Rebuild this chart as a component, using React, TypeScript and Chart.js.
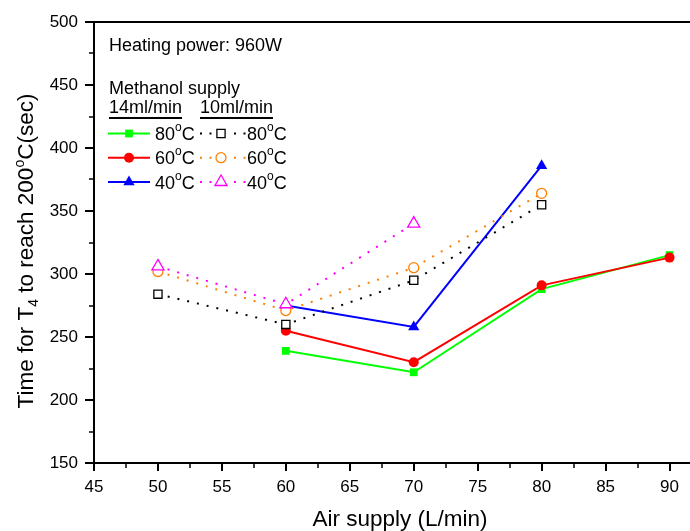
import React, { useEffect, useRef } from "react";
import { Chart, registerables } from "chart.js";

Chart.register(...registerables);

// ---- data ----
const air14 = [60, 70, 80, 90];
const time14_80 = [239, 222, 288, 315];
const time14_60 = [255, 230, 291, 313];
const air14_40 = [60, 70, 80];
const time14_40 = [275, 258, 386];

const air10 = [50, 60, 70, 80];
const time10_80 = [284, 260, 295, 355];
const time10_60 = [302, 271, 305, 364];
const air10_40 = [50, 60, 70];
const time10_40 = [306, 276, 340];

const xTickValues = [45, 50, 55, 60, 65, 70, 75, 80, 85, 90];
const xMinorValues = [47.5, 52.5, 57.5, 62.5, 67.5, 72.5, 77.5, 82.5, 87.5];
const yTickValues = [150, 200, 250, 300, 350, 400, 450, 500];
const yMinorValues = [175, 225, 275, 325, 375, 425, 475];
const xMin = 45;
const xMax = 91.6;
const yMin = 150;
const yMax = 500;

const headerText = "Heating power: 960W";
const supplyTitle = "Methanol supply";
const groupLabels = ["14ml/min", "10ml/min"];
const tempLabels = ["80", "60", "40"];
const xTitle = "Air supply (L/min)";

const FONT = '"Liberation Sans", Arial, Helvetica, sans-serif';

const GREEN = "#00FF00";
const RED = "#FF0000";
const BLUE = "#0000FF";
const BLACK = "#000000";
const ORANGE = "#FF8000";
const MAGENTA = "#FF00FF";

const pts = (xs: number[], ys: number[]) => xs.map((x, i) => ({ x, y: ys[i] }));

type Part = { t: string; size: number; dy: number };

function partsWidth(ctx: CanvasRenderingContext2D, parts: Part[]) {
  let w = 0;
  for (const p of parts) {
    ctx.font = `${p.size}px ${FONT}`;
    w += ctx.measureText(p.t).width;
  }
  return w;
}

function drawParts(ctx: CanvasRenderingContext2D, parts: Part[], x: number, y: number) {
  let cx = x;
  for (const p of parts) {
    ctx.font = `${p.size}px ${FONT}`;
    ctx.fillText(p.t, cx, y + p.dy);
    cx += ctx.measureText(p.t).width;
  }
}

function drawMarker(
  ctx: CanvasRenderingContext2D,
  style: string,
  x: number,
  y: number,
  r: number,
  fill: string,
  stroke: string,
  lw: number
) {
  ctx.save();
  ctx.beginPath();
  if (style === "rect") {
    const s = r / Math.SQRT2;
    ctx.rect(x - s, y - s, 2 * s, 2 * s);
  } else if (style === "circle") {
    ctx.arc(x, y, r, 0, Math.PI * 2);
  } else {
    let rad = 0;
    ctx.moveTo(x + Math.sin(rad) * r, y - Math.cos(rad) * r);
    rad += (2 * Math.PI) / 3;
    ctx.lineTo(x + Math.sin(rad) * r, y - Math.cos(rad) * r);
    rad += (2 * Math.PI) / 3;
    ctx.lineTo(x + Math.sin(rad) * r, y - Math.cos(rad) * r);
    ctx.closePath();
  }
  ctx.fillStyle = fill;
  ctx.fill();
  if (lw > 0) {
    ctx.strokeStyle = stroke;
    ctx.lineWidth = lw;
    ctx.stroke();
  }
  ctx.restore();
}

const solidSeries = [
  { color: GREEN, style: "rect", r: 5.5 },
  { color: RED, style: "circle", r: 5 },
  { color: BLUE, style: "triangle", r: 6.5 },
];
const dottedSeries = [
  { color: BLACK, style: "rect", r: 5.8 },
  { color: ORANGE, style: "circle", r: 5 },
  { color: MAGENTA, style: "triangle", r: 7 },
];

const zeroPadding = () => ({ left: 0, right: 0, top: 0, bottom: 0 });

const decorPlugin = {
  id: "decor",
  afterDraw(chart: any) {
    const ctx: CanvasRenderingContext2D = chart.ctx;
    const area = chart.chartArea;
    const xs = chart.scales.x;
    const ys = chart.scales.y;
    ctx.save();
    ctx.strokeStyle = "#000";
    ctx.fillStyle = "#000";

    // top frame line
    ctx.lineWidth = 2;
    ctx.beginPath();
    ctx.moveTo(area.left - 1, area.top);
    ctx.lineTo(chart.width, area.top);
    ctx.stroke();

    // y ticks (major + minor)
    const yT = [
      ...yTickValues.map((v) => ({ v, major: true })),
      ...yMinorValues.map((v) => ({ v, major: false })),
    ];
    for (const { v, major } of yT) {
      const py = Math.round(ys.getPixelForValue(v));
      ctx.lineWidth = major ? 2 : 1.5;
      ctx.beginPath();
      ctx.moveTo(area.left, py);
      ctx.lineTo(area.left - (major ? 9 : 5), py);
      ctx.stroke();
    }
    // x ticks (major + minor)
    const xT = [
      ...xTickValues.map((v) => ({ v, major: true })),
      ...xMinorValues.map((v) => ({ v, major: false })),
    ];
    for (const { v, major } of xT) {
      const px = Math.round(xs.getPixelForValue(v));
      ctx.lineWidth = major ? 2 : 1.5;
      ctx.beginPath();
      ctx.moveTo(px, area.bottom);
      ctx.lineTo(px, area.bottom + (major ? 8 : 5));
      ctx.stroke();
    }

    // axis titles
    ctx.textBaseline = "alphabetic";
    ctx.textAlign = "left";
    const xParts: Part[] = [{ t: xTitle, size: 22.5, dy: 0 }];
    const xw = partsWidth(ctx, xParts);
    drawParts(ctx, xParts, 400 - xw / 2, 526);

    const yParts: Part[] = [
      { t: "Time for T", size: 22.5, dy: 0 },
      { t: "4", size: 14, dy: 5 },
      { t: " to reach 200", size: 22.5, dy: 0 },
      { t: "o", size: 14, dy: -9 },
      { t: "C(sec)", size: 22.5, dy: 0 },
    ];
    const yw = partsWidth(ctx, yParts);
    ctx.save();
    ctx.translate(33, 251);
    ctx.rotate(-Math.PI / 2);
    drawParts(ctx, yParts, -yw / 2, 0);
    ctx.restore();

    // legend
    ctx.font = `18px ${FONT}`;
    ctx.fillText(headerText, 109, 51);
    ctx.fillText(supplyTitle, 109, 94);
    const gx = [109, 200];
    groupLabels.forEach((g, i) => {
      ctx.font = `18px ${FONT}`;
      ctx.fillText(g, gx[i], 113);
      const w = ctx.measureText(g).width;
      ctx.lineWidth = 2;
      ctx.beginPath();
      ctx.moveTo(gx[i], 118);
      ctx.lineTo(gx[i] + w, 118);
      ctx.stroke();
    });

    const rowY = [133.5, 157.7, 182];
    tempLabels.forEach((t, i) => {
      const y = rowY[i];
      const tParts: Part[] = [
        { t, size: 18, dy: 0 },
        { t: "o", size: 12, dy: -9 },
        { t: "C", size: 18, dy: 0 },
      ];
      // solid (14 ml/min)
      const s = solidSeries[i];
      ctx.strokeStyle = s.color;
      ctx.lineWidth = 2;
      ctx.setLineDash([]);
      ctx.beginPath();
      ctx.moveTo(108, y);
      ctx.lineTo(150, y);
      ctx.stroke();
      drawMarker(ctx, s.style, 129, y, s.r, s.color, s.color, 0);
      ctx.fillStyle = "#000";
      drawParts(ctx, tParts, 155, y + 6.5);

      // dotted (10 ml/min)
      const d = dottedSeries[i];
      ctx.strokeStyle = d.color;
      ctx.lineWidth = 2;
      ctx.setLineDash([2, 7.5]);
      ctx.beginPath();
      ctx.moveTo(200, y);
      ctx.lineTo(212, y);
      ctx.stroke();
      ctx.beginPath();
      ctx.moveTo(234, y);
      ctx.lineTo(246, y);
      ctx.stroke();
      ctx.setLineDash([]);
      drawMarker(ctx, d.style, 221, y, d.r, "#FFFFFF", d.color, 1.3);
      ctx.fillStyle = "#000";
      drawParts(ctx, tParts, 247, y + 6.5);
    });

    ctx.restore();
  },
};

export default function App() {
  const ref = useRef<HTMLCanvasElement | null>(null);

  useEffect(() => {
    if (!ref.current) return;
    const solid = (data: any, s: any, order: number) => ({
      data,
      borderColor: s.color,
      backgroundColor: s.color,
      borderWidth: 2,
      pointStyle: s.style,
      pointRadius: s.r,
      pointBackgroundColor: s.color,
      pointBorderColor: s.color,
      pointBorderWidth: 0,
      tension: 0,
      fill: false,
      order,
    });
    const dotted = (data: any, s: any, order: number) => ({
      data,
      borderColor: s.color,
      backgroundColor: "#FFFFFF",
      borderWidth: 2,
      borderDash: [2, 8],
      pointStyle: s.style,
      pointRadius: s.r,
      pointBackgroundColor: "#FFFFFF",
      pointBorderColor: s.color,
      pointBorderWidth: 1.3,
      tension: 0,
      fill: false,
      order,
    });

    const chart = new Chart(ref.current, {
      type: "line",
      data: {
        datasets: [
          solid(pts(air14, time14_80), solidSeries[0], 6),
          solid(pts(air14, time14_60), solidSeries[1], 5),
          solid(pts(air14_40, time14_40), solidSeries[2], 4),
          dotted(pts(air10, time10_80), dottedSeries[0], 3),
          dotted(pts(air10, time10_60), dottedSeries[1], 2),
          dotted(pts(air10_40, time10_40), dottedSeries[2], 1),
        ] as any,
      },
      options: {
        responsive: false,
        animation: false,
        events: [],
        layout: { autoPadding: false, padding: { top: 22, left: 0, right: 0, bottom: 0 } },
        plugins: {
          legend: { display: false },
          tooltip: { enabled: false },
          title: { display: false },
        },
        scales: {
          x: {
            type: "linear",
            min: xMin,
            max: xMax,
            afterBuildTicks: (axis: any) => {
              axis.ticks = xTickValues.map((v) => ({ value: v }));
            },
            afterFit: (s: any) => {
              s.height = 68;
              s.paddingLeft = 0;
              s.paddingRight = 0;
              s.getPadding = zeroPadding;
            },
            ticks: {
              autoSkip: false,
              maxRotation: 0,
              padding: 14,
              color: "#000",
              font: { family: FONT, size: 17 },
            },
            grid: { display: false, drawTicks: false },
            border: { display: true, color: "#000", width: 2 },
          },
          y: {
            type: "linear",
            min: yMin,
            max: yMax,
            afterBuildTicks: (axis: any) => {
              axis.ticks = yTickValues.map((v) => ({ value: v }));
            },
            afterFit: (s: any) => {
              s.width = 94;
              s.paddingTop = 0;
              s.paddingBottom = 0;
              s.getPadding = zeroPadding;
            },
            ticks: {
              padding: 16,
              color: "#000",
              font: { family: FONT, size: 17 },
            },
            grid: { display: false, drawTicks: false },
            border: { display: true, color: "#000", width: 2 },
          },
        },
      } as any,
      plugins: [decorPlugin],
    });
    return () => chart.destroy();
  }, []);

  return (
    <div style={{ position: "absolute", left: 0, top: 0, width: 690, height: 531, background: "#fff" }}>
      <canvas ref={ref} width={690} height={531} style={{ display: "block" }} />
    </div>
  );
}
